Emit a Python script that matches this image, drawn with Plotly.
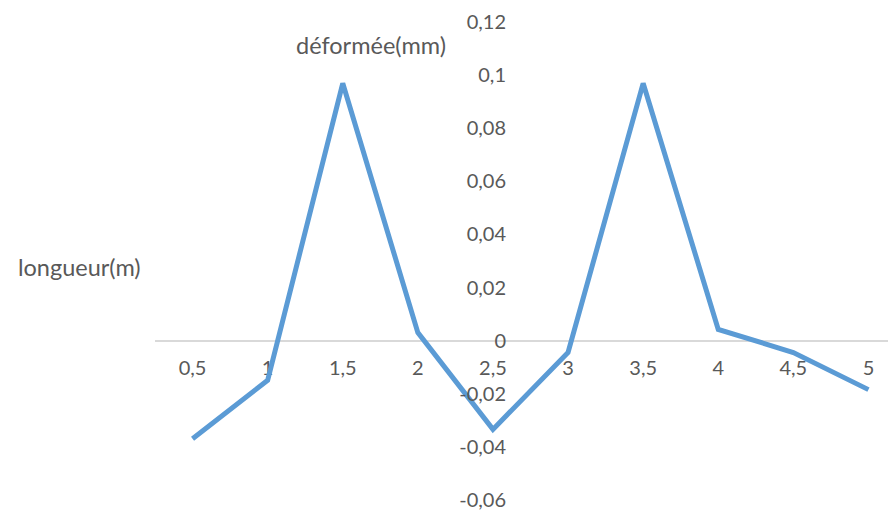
import plotly.graph_objects as go

categories = ["0,5", "1", "1,5", "2", "2,5", "3", "3,5", "4", "4,5", "5"]
deformee = [-0.037, -0.015, 0.097, 0.003, -0.0335, -0.0045, 0.097, 0.0042, -0.0045, -0.0185]
y_tickvals = [-0.06, -0.04, -0.02, 0, 0.02, 0.04, 0.06, 0.08, 0.1, 0.12]
y_ticktext = ["-0,06", "-0,04", "-0,02", "0", "0,02", "0,04", "0,06", "0,08", "0,1", "0,12"]

W, H = 896, 513
OFF = 8  # page body margin offset
L, R = 155 - OFF, 0
T = 21 - OFF
B = 513 + OFF - 501.3
FONT = "Lato"
GRAY = "#595959"
TICK_SIZE = 20
TITLE_SIZE = 23.5

x_idx = list(range(len(categories)))
spacing = 75.1
plot_w = W - L - R
plot_h = H - T - B
x_hi = -0.5 + plot_w / spacing
y_lo, y_hi = -0.0605, 0.1205

fig = go.Figure()
fig.add_trace(go.Scatter(
    x=x_idx, y=deformee, mode="lines",
    line=dict(color="#5B9BD5", width=5),
    hoverinfo="skip", showlegend=False,
))

fig.update_layout(
    width=W, height=H,
    margin=dict(l=L, r=R, t=T, b=B, pad=0),
    paper_bgcolor="white", plot_bgcolor="white",
    font=dict(family=FONT, size=TICK_SIZE, color=GRAY),
    xaxis=dict(
        range=[-0.5, x_hi],
        tickvals=x_idx, ticktext=categories,
        showgrid=False, zeroline=False,
        showline=True, linecolor="#d9d9d9", linewidth=1.5,
        anchor="free", position=(0 - y_lo) / (y_hi - y_lo),
        ticks="", ticklabelstandoff=10,
        layer="below traces",
        tickfont=dict(family=FONT, size=TICK_SIZE, color=GRAY),
    ),
    yaxis=dict(
        range=[y_lo, y_hi],
        tickvals=y_tickvals, ticktext=y_ticktext,
        showgrid=False, zeroline=False, showline=False,
        anchor="free", position=(500 - L) / plot_w,
        ticks="", ticklabelstandoff=2,
        tickfont=dict(family=FONT, size=TICK_SIZE, color=GRAY),
    ),
    annotations=[
        dict(text="déformée(mm)", x=371 - OFF, y=45 - OFF, xref="paper", yref="paper",
             showarrow=False, font=dict(family=FONT, size=TITLE_SIZE, color=GRAY),
             xanchor="center", yanchor="middle"),
        dict(text="longueur(m)", x=79 - OFF, y=267 - OFF, xref="paper", yref="paper",
             showarrow=False, font=dict(family=FONT, size=TITLE_SIZE, color=GRAY),
             xanchor="center", yanchor="middle"),
    ],
)

# convert pixel-based annotation coordinates to paper fractions
for a in fig.layout.annotations:
    a.x = (a.x - L) / plot_w
    a.y = (H - a.y - B) / plot_h

fig.write_html("out.html")
